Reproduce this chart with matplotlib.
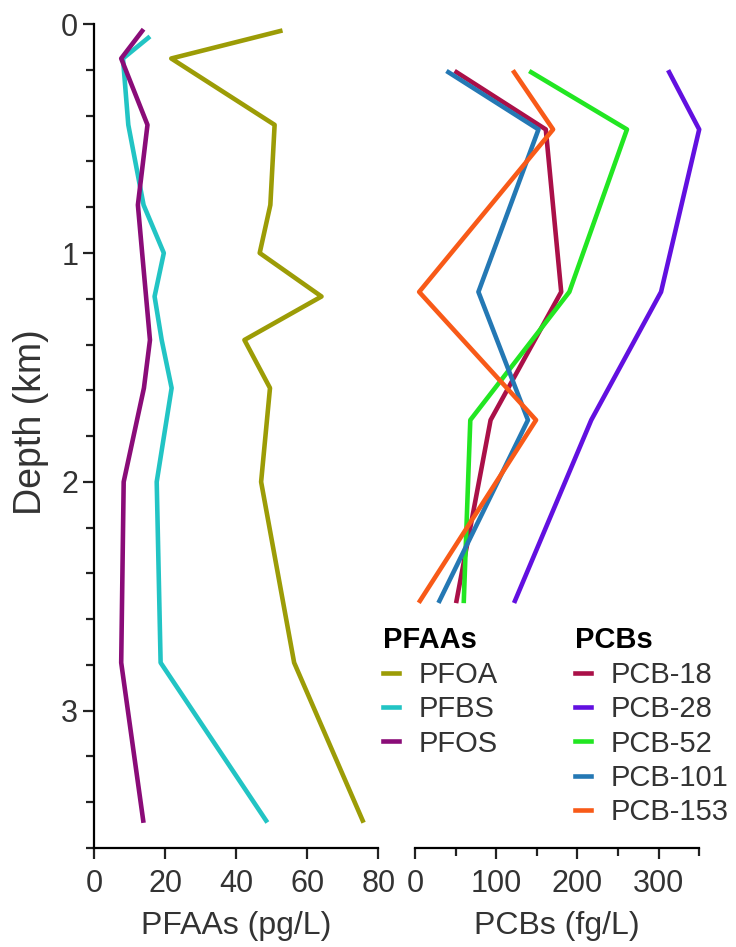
import matplotlib.pyplot as plt
from matplotlib.ticker import MultipleLocator

plt.rcParams['font.family'] = ['Liberation Sans', 'DejaVu Sans']
plt.rcParams['font.size'] = 21

# PFAAs depth profile (km) and concentrations (pg/L)
pfaa_depth = [0.03, 0.15, 0.44, 0.79, 1.0, 1.19, 1.38, 1.59, 2.0, 2.79, 3.48]
pfoa = [52.4, 21.7, 50.8, 49.6, 46.6, 64.0, 42.3, 49.5, 47.0, 56.3, 75.6]
pfbs = [15.2, 8.1, 9.6, 13.9, 19.6, 17.0, 19.0, 21.8, 17.6, 18.7, 48.4]
pfos = [13.5, 7.6, 15.0, 12.3, 13.5, 14.6, 15.7, 14.0, 8.3, 7.6, 13.8]
pfaa_depth_first = [0.03, 0.06, 0.03]  # first sample depth per series

# PCBs depth profile (km) and concentrations (fg/L)
pcb_depth = [0.21, 0.46, 1.17, 1.73, 2.52]
pcb18 = [51, 161, 180, 93, 51]
pcb28 = [313, 350, 303, 217, 123]
pcb52 = [143, 261, 190, 68, 60]
pcb101 = [41, 152, 78, 139, 30]
pcb153 = [122, 170, 5, 149, 6]

pfaa_names = ['PFOA', 'PFBS', 'PFOS']
pfaa_colors = ['#9c9c06', '#22c4c4', '#8a0c78']
pcb_names = ['PCB-18', 'PCB-28', 'PCB-52', 'PCB-101', 'PCB-153']
pcb_colors = ['#aa1048', '#6210e0', '#22e622', '#2478b4', '#f85a18']

fig = plt.figure(figsize=(7.36, 9.47), dpi=100)
ax1 = fig.add_axes([0.128, 0.1045, 0.386, 0.870])
ax2 = fig.add_axes([0.564, 0.1045, 0.386, 0.870], sharey=ax1)

lw = 3.3
h1 = []
for vals, col, name, d0 in zip([pfoa, pfbs, pfos], pfaa_colors, pfaa_names, pfaa_depth_first):
    depths = [d0] + pfaa_depth[1:]
    ln, = ax1.plot(vals, depths, color=col, lw=lw, label=name, clip_on=False)
    h1.append(ln)

h2 = []
for vals, col, name in zip([pcb18, pcb28, pcb52, pcb101, pcb153], pcb_colors, pcb_names):
    ln, = ax2.plot(vals, pcb_depth, color=col, lw=lw, label=name, clip_on=False)
    h2.append(ln)

ax1.set_ylim(3.6, 0)
ax1.set_xlim(0, 80)
ax2.set_xlim(0, 350)
ax1.set_xticks([0, 20, 40, 60, 80])
ax1.set_yticks([0, 1, 2, 3])
ax1.yaxis.set_minor_locator(MultipleLocator(0.2))
ax2.set_xticks([0, 100, 200, 300])
ax2.xaxis.set_minor_locator(MultipleLocator(50))

for ax in (ax1, ax2):
    for s in ['top', 'right']:
        ax.spines[s].set_visible(False)
    ax.spines['bottom'].set_linewidth(1.6)
    ax.spines['left'].set_linewidth(1.6)
    ax.tick_params(which='major', length=8, width=1.6, color='#222222',
                   labelcolor='#333333', labelsize=22)
    ax.tick_params(which='minor', length=6, width=1.6, color='#222222')
    ax.tick_params(axis='x', pad=7)

ax2.spines['left'].set_visible(False)
ax2.tick_params(axis='y', which='both', left=False, labelleft=False)

ax1.set_ylabel('Depth (km)', color='#333333', fontsize=27)
ax1.yaxis.set_label_coords(-0.16, 0.517)
ax1.set_xlabel('PFAAs (pg/L)', color='#333333', labelpad=9, fontsize=23)
ax2.set_xlabel('PCBs (fg/L)', color='#333333', labelpad=9, fontsize=23)

leg_kw = dict(loc='upper left', frameon=False, handlelength=0.55, handletextpad=0.65,
              labelspacing=0.22, alignment='left', borderpad=0, labelcolor='#333333',
              title_fontproperties={'weight': 'bold', 'size': 21})
fig.legend(handles=h1, title='PFAAs', bbox_to_anchor=(0.501, 0.354), **leg_kw)
fig.legend(handles=h2, title='PCBs', bbox_to_anchor=(0.762, 0.354), **leg_kw)

fig.savefig('out.png', dpi=100)
